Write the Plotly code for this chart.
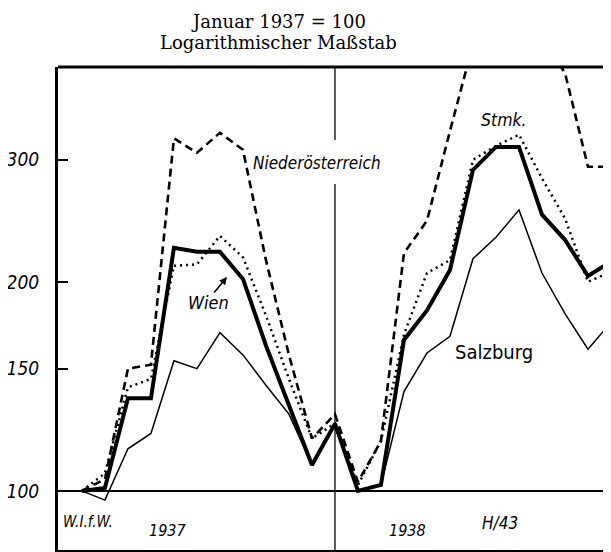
import math
import plotly.graph_objects as go

# ---- data (month index 0 = Jan 1937 ... 23 = Dec 1938), Januar 1937 = 100 ----
months = list(range(24))
wien = [100, 101, 136, 136, 224, 221, 221, 202, 162, 133, 109, 125,
        100, 102, 165, 182, 208, 290, 313, 313, 250, 230, 204, 214]
steiermark = [100, 106, 141, 145, 211, 212, 233, 217, 179, 145, 119, 125,
              102, 118, 168, 206, 215, 300, 314, 326, 282, 247, 200, 207]
niederoesterreich = [100, 104, 150, 152, 322, 307, 328, 310, 215, 157, 119, 129,
                     103, 118, 220, 245, 330, 440, 480, 480, 450, 400, 293, 293]
salzburg = [100, 97, 115, 121, 154, 150, 169, 157, 142, 129, 109, 124,
            100, 102, 139, 158, 167, 216, 232, 254, 206, 180, 160, 175]
tick_vals = [100, 150, 200, 300]
tick_text = ["100", "150", "200", "300"]
base_value = 100
year_break = 11  # Dezember 1937

# ---- layout geometry (page has an 8px body margin) ----
OFF = 8
W, H = 611 - OFF, 552 - OFF
L, R, T, B = 58 - OFF, 0, 67 - OFF, 2
PW, PH = W - L - R, H - T - B
X_RANGE = [-1.04, 23.0]
Y_MIN, Y_MAX = 82.2, 408


def px(x):
    return (x - OFF - L) / PW


def py(y):
    return (H - B - (y - OFF)) / PH


SANS = "Liberation Sans Narrow, DejaVu Sans Condensed, Roboto, sans-serif"
SERIF = "DejaVu Serif, Liberation Serif, serif"

fig = go.Figure()
fig.add_trace(go.Scatter(x=X_RANGE, y=[base_value, base_value], mode="lines",
                         line=dict(color="black", width=2), hoverinfo="skip"))
fig.add_trace(go.Scatter(x=months, y=salzburg, mode="lines", name="Salzburg",
                         line=dict(color="black", width=1.5)))
fig.add_trace(go.Scatter(x=months, y=niederoesterreich, mode="lines", name="Niederösterreich",
                         line=dict(color="black", width=2.6, dash="8px,5px")))
fig.add_trace(go.Scatter(x=months, y=steiermark, mode="lines", name="Stmk.",
                         line=dict(color="black", width=2.5, dash="2px,4px")))
fig.add_trace(go.Scatter(x=months, y=wien, mode="lines", name="Wien",
                         line=dict(color="black", width=4)))

shapes = [
    dict(type="line", xref="paper", yref="paper", x0=0, x1=1, y0=1, y1=1,
         line=dict(color="black", width=3)),
    dict(type="line", xref="x", yref="paper", x0=year_break, x1=year_break, y0=0, y1=py(184),
         line=dict(color="black", width=1.3)),
    dict(type="line", xref="x", yref="paper", x0=year_break, x1=year_break, y0=py(140), y1=1,
         line=dict(color="black", width=1.3)),
]


def lab(text, x, y, size=17, family=SANS, style="italic"):
    return dict(text=text, xref="paper", yref="paper", x=px(x), y=py(y),
                xanchor="center", yanchor="middle", showarrow=False,
                font=dict(family=family, size=size, color="black", style=style))


annotations = [
    lab("Januar 1937 = 100", 278, 22, size=18, family=SERIF, style="normal"),
    lab("Logarithmischer Maßstab", 278, 43, size=18, family=SERIF, style="normal"),
    lab("Niederösterreich", 317, 163, size=17),
    lab("Wien", 208, 302, size=18),
    lab("Stmk.", 504, 120, size=17.5),
    lab("Salzburg", 494, 352, size=20, style="normal"),
    lab("W.I.f.W.", 88, 522, size=15),
    lab("1937", 167, 530, size=16),
    lab("1938", 407, 530, size=16),
    lab("H/43", 500, 523, size=17),
    dict(text="", xref="paper", yref="paper", x=px(227), y=py(277),
         ax=-14, ay=17, axref="pixel", ayref="pixel", showarrow=True,
         arrowhead=2, arrowsize=1, arrowwidth=1.5, arrowcolor="black"),
]

fig.update_layout(
    width=W, height=H,
    margin=dict(l=L, r=R, t=T, b=B, pad=0, autoexpand=False),
    paper_bgcolor="white", plot_bgcolor="white",
    showlegend=False,
    shapes=shapes,
    annotations=annotations,
    xaxis=dict(range=X_RANGE, showticklabels=False, ticks="", showgrid=False,
               zeroline=False, showline=True, linewidth=1.5, linecolor="black",
               automargin=False),
    yaxis=dict(type="log", range=[math.log10(Y_MIN), math.log10(Y_MAX)],
               tickvals=tick_vals, ticktext=tick_text, ticks="inside", ticklen=10,
               tickwidth=1.5, tickcolor="black", showgrid=False, zeroline=False,
               showline=True, linewidth=3, linecolor="black", ticklabelstandoff=12,
               automargin=False,
               tickfont=dict(family=SANS, size=19, color="black", style="italic")),
)

fig.write_html("out.html")
